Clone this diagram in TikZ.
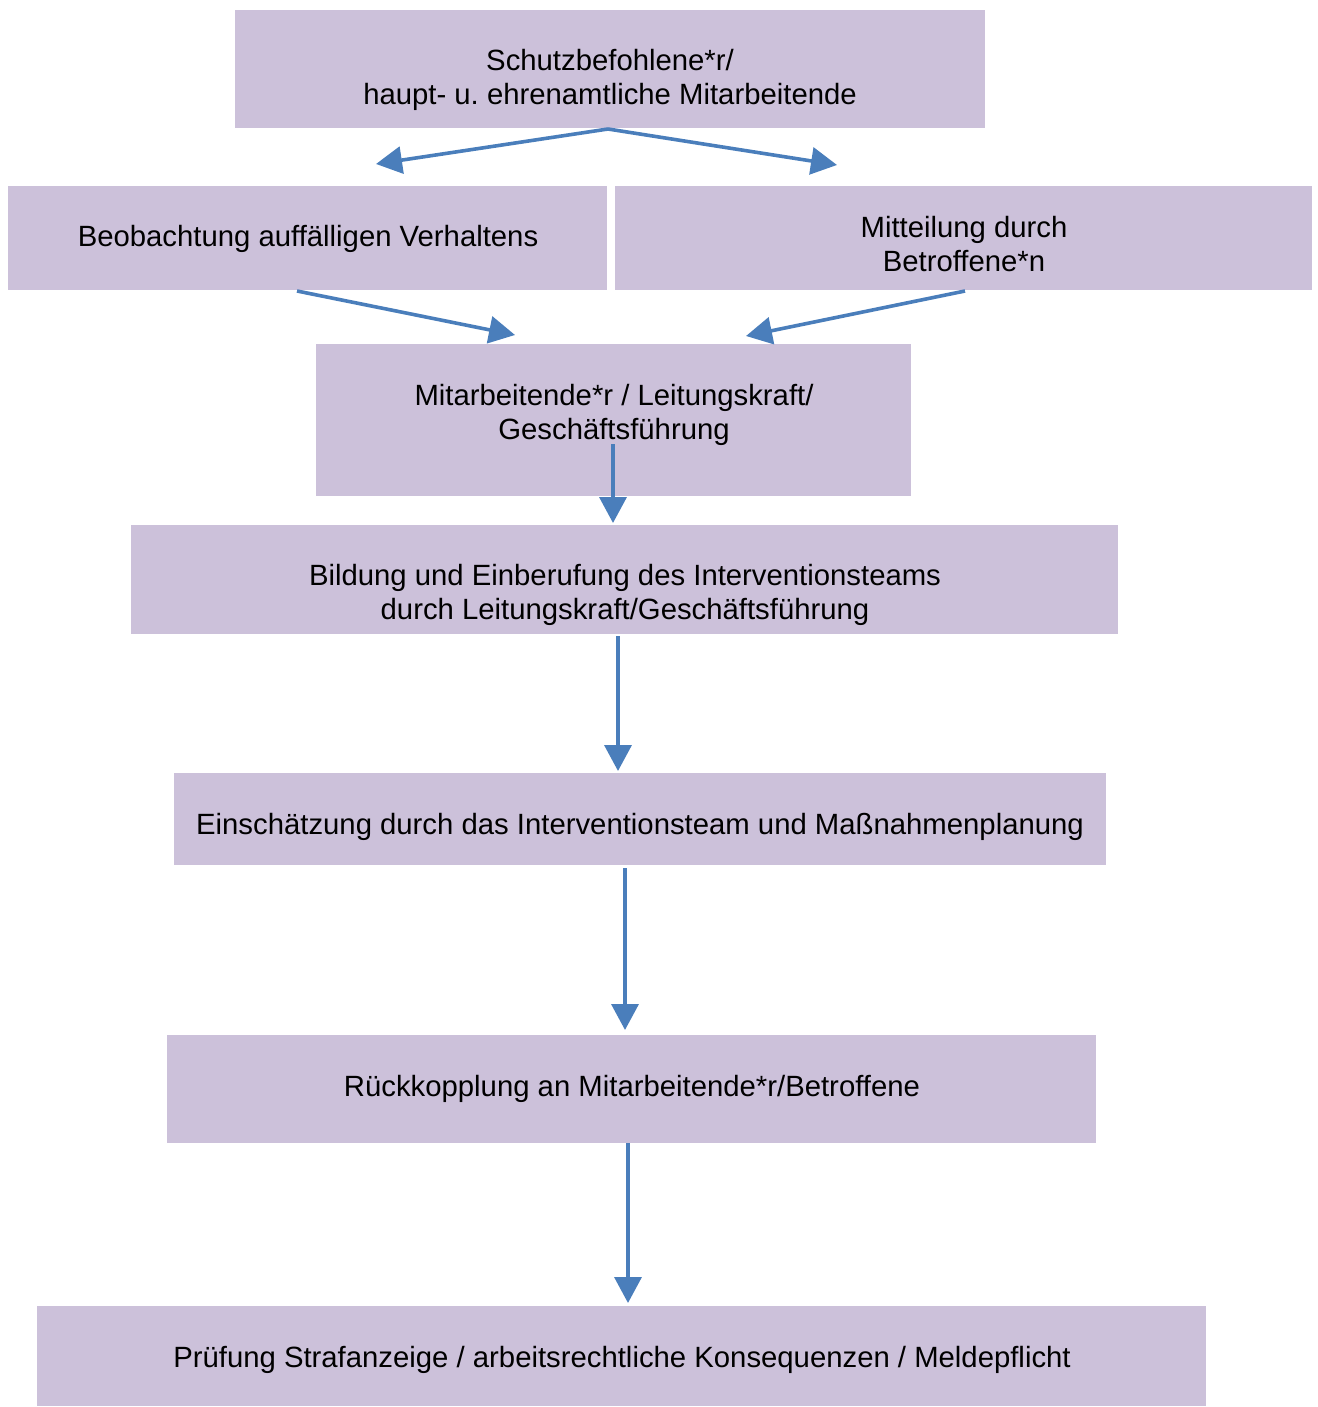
\documentclass[tikz,border=0pt]{standalone}
\usepackage{fontspec}
\setmainfont{Liberation Sans}
\usetikzlibrary{arrows.meta}
\definecolor{boxfill}{RGB}{204,193,218}
\definecolor{arrowblue}{RGB}{74,126,187}
\frenchspacing
\begin{document}
\begin{tikzpicture}[x=1pt,y=-1pt,
  box/.style={fill=boxfill,draw=none,inner sep=0pt,outer sep=0pt},
  lbl/.style={inner sep=0pt,outer sep=0pt,align=center,font=\fontsize{29.3}{34}\selectfont},
  flow/.style={draw=arrowblue,line width=3.6pt,-{Triangle[length=26pt,width=27pt]}}]
\useasboundingbox (0,0) rectangle (1317,1407);
% boxes
\path[box] (235,10) rectangle (985,128) node[pos=0.5] (b1) {};
\path[box] (8,186) rectangle (607,290) node[pos=0.5] (b2) {};
\path[box] (615,186) rectangle (1312,290) node[pos=0.5] (b3) {};
\path[box] (316,344) rectangle (911,496) node[pos=0.5] (b4) {};
\path[box] (131,525) rectangle (1118,634) node[pos=0.5] (b5) {};
\path[box] (174,773) rectangle (1106,865) node[pos=0.5] (b6) {};
\path[box] (167,1035) rectangle (1096,1143) node[pos=0.5] (b7) {};
\path[box] (37,1306) rectangle (1206,1406) node[pos=0.5] (b8) {};
% labels
\node[lbl] (t1) at (610,81.2) {\strut Schutzbefohlene*r/\\\strut haupt- u.\ ehrenamtliche Mitarbeitende};
\node[lbl] (t2) at (308,239.5) {\strut Beobachtung auffälligen Verhaltens};
\node[lbl] (t3) at (964,247.5) {\strut Mitteilung durch\\\strut Betroffene*n};
\node[lbl] (t4) at (614,415.2) {\strut Mitarbeitende*r / Leitungskraft/\\\strut Geschäftsführung};
\node[lbl] (t5) at (625,595.2) {\strut Bildung und Einberufung des Interventionsteams\\\strut durch Leitungskraft/Geschäftsführung};
\node[lbl] (t6) at (640,827.5) {\strut Einschätzung durch das Interventionsteam und Maßnahmenplanung};
\node[lbl] (t7) at (632,1089.5) {\strut Rückkopplung an Mitarbeitende*r/Betroffene};
\node[lbl] (t8) at (622,1360.5) {\strut Prüfung Strafanzeige / arbeitsrechtliche Konsequenzen / Meldepflicht};
% connector end points
\coordinate (s1) at (608,129);
\coordinate (e1a) at (376,164);
\coordinate (e1b) at (837,165);
\coordinate (s2) at (297,291);
\coordinate (e2) at (515,335);
\coordinate (s3) at (965,291);
\coordinate (e3) at (746,336);
\coordinate (s4) at (613,444);
\coordinate (e4) at (613,523);
\coordinate (s5) at (618,636);
\coordinate (e5) at (618,771);
\coordinate (s6) at (625,868);
\coordinate (e6) at (625,1030);
\coordinate (s7) at (628,1143);
\coordinate (e7) at (628,1303);
% connectors
\draw[flow] (s1) -- (e1a);
\draw[flow] (s1) -- (e1b);
\draw[flow] (s2) -- (e2);
\draw[flow] (s3) -- (e3);
\draw[flow] (s4) -- (e4);
\draw[flow] (s5) -- (e5);
\draw[flow] (s6) -- (e6);
\draw[flow] (s7) -- (e7);
\end{tikzpicture}
\end{document}
